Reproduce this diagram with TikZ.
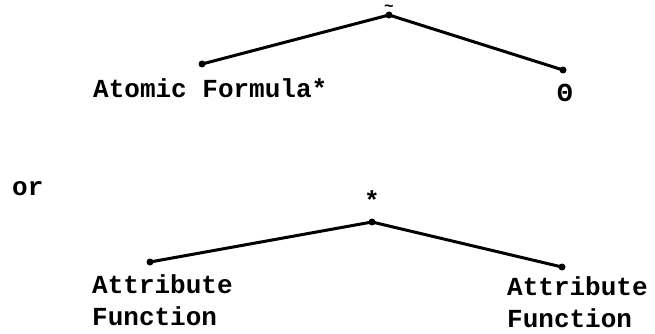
\documentclass[tikz,border=0pt]{standalone}
\usepackage{fontspec}
\setmonofont{Liberation Mono}
\tikzset{
  dot/.style={circle, fill, inner sep=0pt, minimum size=7pt},
  lbl/.style={font=\ttfamily\bfseries\fontsize{26}{32}\selectfont, inner sep=0pt, align=left},
  branch/.style={line width=3pt}
}
\begin{document}
\begin{tikzpicture}[x=1pt,y=-1pt]
\useasboundingbox (0,0) rectangle (655,334);
% first tree
\node[dot] (r1) at (389,15) {};
\node[dot] (a1) at (202,64) {};
\node[dot] (b1) at (563,70) {};
\node[lbl, font=\ttfamily\bfseries\fontsize{16}{18}\selectfont] (tl) at (389,8) {\char`\~};
\node[lbl, anchor=west] (af) at (93,88) {Atomic Formula*};
\node[lbl] (th) at (565,93) {Θ};
\draw[branch] (a1.center) -- (r1.center) -- (b1.center);
% or
\node[lbl, anchor=west] (or) at (12,189) {or};
% second tree
\node[dot] (r2) at (372,222) {};
\node[dot] (a2) at (150,262) {};
\node[dot] (b2) at (562,267) {};
\node[lbl] (st) at (372,200) {*};
\node[lbl, anchor=west] (f1) at (92,300) {Attribute\\Function};
\node[lbl, anchor=west] (f2) at (507,302) {Attribute\\Function};
\draw[branch] (a2.center) -- (r2.center) -- (b2.center);
\end{tikzpicture}
\end{document}
